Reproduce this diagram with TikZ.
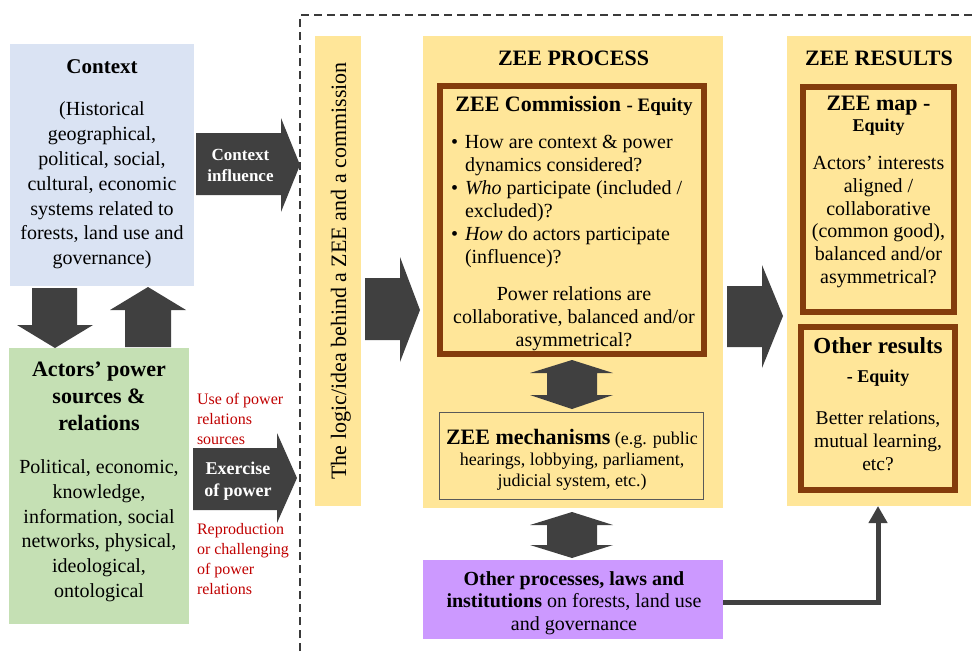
\documentclass[tikz,border=0pt]{standalone}
\usepackage{fontspec}
\setmainfont{Liberation Serif}
\usetikzlibrary{arrows.meta}
\definecolor{ylw}{HTML}{FFE699}
\definecolor{brn}{HTML}{843C0C}
\definecolor{ctxblue}{HTML}{DAE3F3}
\definecolor{actgreen}{HTML}{C5E0B4}
\definecolor{purp}{HTML}{CC99FF}
\definecolor{arrgray}{HTML}{404040}
\definecolor{redtxt}{HTML}{C00000}
\definecolor{dashgray}{HTML}{3A3A3A}
\newcommand{\fsz}[2]{\fontsize{#1}{#2}\selectfont}
\begin{document}
\begin{tikzpicture}[x=1pt,y=-1pt,
  box/.style={inner sep=0pt, outer sep=0pt, anchor=north west},
  thickbox/.style={box, draw=brn, line width=6pt, fill=ylw},
  txt/.style={inner sep=0pt, outer sep=0pt, align=center, anchor=north},
  ltxt/.style={inner sep=0pt, outer sep=0pt, align=left, anchor=north west},
  blk/.style={fill=arrgray},
  conn/.style={draw=arrgray, line width=5pt, -{Triangle[length=17pt,width=18pt]}},
  frame/.style={draw=dashgray, line width=1.5pt, dash pattern=on 8pt off 5pt}]
\useasboundingbox (0,0) rectangle (973,651);

% dashed frame
\draw[frame] (300,651) -- (300,15) -- (975,15);

% boxes
\node[box, fill=ctxblue, minimum width=184pt, minimum height=242pt] (context) at (10,44) {};
\node[box, fill=actgreen, minimum width=180pt, minimum height=276pt] (actors) at (9,348) {};
\node[box, fill=ylw, minimum width=46pt, minimum height=470pt] (logic) at (315,36) {};
\node[box, fill=ylw, minimum width=300pt, minimum height=472pt] (process) at (423,36) {};
\node[box, fill=ylw, minimum width=184pt, minimum height=470pt] (results) at (787,36) {};
\node[thickbox, minimum width=264pt, minimum height=268pt] (commission) at (440,86) {};
\node[box, draw=black!65, line width=1pt, minimum width=264pt, minimum height=87pt] (mech) at (439,412) {};
\node[box, fill=purp, minimum width=300pt, minimum height=79pt] (other) at (423,560) {};
\node[thickbox, minimum width=151pt, minimum height=225pt] (zeemap) at (803,87) {};
\node[thickbox, minimum width=154pt, minimum height=163pt] (othres) at (801,327) {};

% block arrows
\fill[blk] (32,288) -- (77,288) -- (77,325) -- (93,325) -- (55,348) -- (17,325) -- (32,325) -- cycle;
\fill[blk] (125,347) -- (171,347) -- (171,310) -- (186,310) -- (148,287) -- (110,310) -- (125,310) -- cycle;
\fill[blk] (196,133) -- (281,133) -- (281,118) -- (300,165) -- (281,212) -- (281,195) -- (196,195) -- cycle;
\fill[blk] (193,448) -- (277,448) -- (277,433) -- (297,478) -- (277,523) -- (277,510) -- (193,510) -- cycle;
\fill[blk] (365,278) -- (400,278) -- (400,257) -- (420,310) -- (400,362) -- (400,340) -- (365,340) -- cycle;
\fill[blk] (727,286) -- (762,286) -- (762,265) -- (783,316) -- (762,368) -- (762,347) -- (727,347) -- cycle;
\fill[blk] (572,360) -- (613,373) -- (597,373) -- (597,395) -- (613,395) -- (572,409) -- (530,395) -- (547,395) -- (547,373) -- (530,373) -- cycle;
\fill[blk] (572,512) -- (613,525) -- (597,525) -- (597,545) -- (613,545) -- (572,558) -- (530,545) -- (547,545) -- (547,525) -- (530,525) -- cycle;

% connector
\draw[conn] ([yshift=-3pt]other.east) -| ([xshift=-1pt]results.south);

% texts
\node[txt, font={\bfseries\fsz{21}{25}}] (contextT) at (102,60) {Context};
\node[txt, font={\fsz{20}{24.8}}] (contextB) at (102,102) {(Historical\\geographical,\\political, social,\\cultural, economic\\systems related to\\forests, land use and\\governance)};
\node[txt, font={\bfseries\fsz{22}{26.7}}] (actorsT) at (99,362) {Actors’ power\\sources \&\\relations};
\node[txt, font={\fsz{20}{24.7}}] (actorsB) at (99,460) {Political, economic,\\knowledge,\\information, social\\networks, physical,\\ideological,\\ontological};

\node[txt, text=white, font={\bfseries\fsz{17}{21}}] (ctxinf) at (240.5,149) {Context\\influence};
\node[txt, text=white, font={\bfseries\fsz{18}{22}}] (exerc) at (238,462) {Exercise\\of power};
\node[ltxt, text=redtxt, font={\fsz{16}{20}}] (useT) at (197,393) {Use of power\\relations\\sources};
\node[ltxt, text=redtxt, font={\fsz{16}{20}}] (reproT) at (197,523) {Reproduction\\or challenging\\of power\\relations};

\node[inner sep=0pt, rotate=90, anchor=base, font={\fsz{22}{26}}] (logicT) at (346,271) {The logic/idea behind a ZEE and a commission};

\node[txt, font={\bfseries\fsz{22}{26}}] (procT) at (573.5,50.5) {ZEE PROCESS};
\node[txt, font={\bfseries\fsz{22}{26}}] (resT) at (879,50.5) {ZEE RESULTS};

\node[txt, font={\bfseries\fsz{22}{26}}] (commT) at (574,96) {ZEE Commission {\fsz{19}{26}- Equity}};
\node[ltxt, font={\fsz{20}{23.1}}] (bullets) at (451,135) {%
\makebox[14pt][l]{\textbullet}How are context \& power\\
\hspace*{14pt}dynamics considered?\\
\makebox[14pt][l]{\textbullet}\textit{Who} participate (included /\\
\hspace*{14pt}excluded)?\\
\makebox[14pt][l]{\textbullet}\textit{How} do actors participate\\
\hspace*{14pt}(influence)?};
\node[txt, font={\fsz{20}{23.3}}] (powerT) at (574,286.5) {Power relations are\\collaborative, balanced and/or\\asymmetrical?};

\node[txt, font={\fsz{18}{21.3}}] (mechT) at (572,429) {{\bfseries\fsz{22}{21.3}ZEE mechanisms} (e.g. public\\hearings, lobbying, parliament,\\judicial system, etc.)};

\node[txt, font={\fsz{20}{22.5}}] (otherT) at (574,571.3) {\textbf{Other processes, laws and}\\\textbf{institutions} on forests, land use\\and governance};

\node[txt, font={\bfseries\fsz{22}{26}}] (mapT) at (878.5,96.5) {ZEE map -};
\node[txt, font={\bfseries\fsz{18}{22}}] (mapEq) at (878.5,119.3) {Equity};
\node[txt, font={\fsz{20}{22.7}}] (mapB) at (878.5,156.3) {Actors’ interests\\aligned /\\collaborative\\(common good),\\balanced and/or\\asymmetrical?};

\node[txt, font={\bfseries\fsz{23}{26}}] (othT) at (878,337.7) {Other results};
\node[txt, font={\bfseries\fsz{18}{22}}] (othEq) at (878,370.3) {- Equity};
\node[txt, font={\fsz{19.5}{23}}] (othB) at (878,410.6) {Better relations,\\mutual learning,\\etc?};
\end{tikzpicture}
\end{document}
